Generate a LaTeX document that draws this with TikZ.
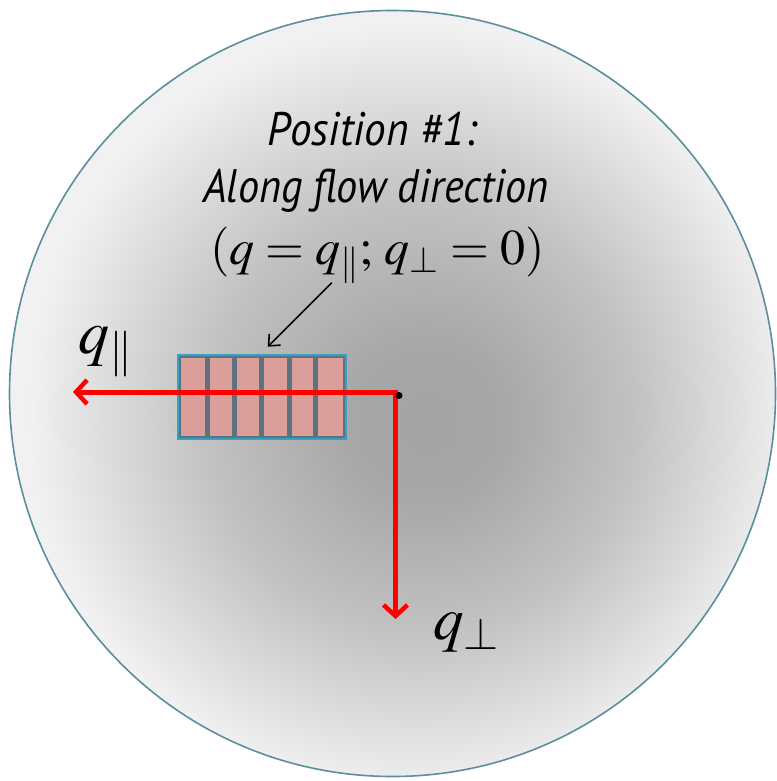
\documentclass[tikz,border=0pt]{standalone}
\usepackage{mathptmx}
\usepackage[no-math]{fontspec}
\newfontfamily\labfont{PT Sans}
\usetikzlibrary{arrows.meta}
\definecolor{rimc}{HTML}{5B8F9E}
\definecolor{detfill}{HTML}{DA9E9B}
\definecolor{detborder}{HTML}{3A9FC4}
\definecolor{detbar}{HTML}{5A737E}
\definecolor{gA}{gray}{0.64}
\definecolor{gB}{gray}{0.655}
\definecolor{gC}{gray}{0.76}
\definecolor{gD}{gray}{0.86}
\definecolor{gE}{gray}{0.945}
\pgfdeclareradialshading{bgshade}{\pgfpoint{2.5bp}{-2bp}}{color(0bp)=(gA); color(5bp)=(gB); color(14bp)=(gC); color(20bp)=(gD); color(25bp)=(gE); color(50bp)=(gE)}
\tikzset{
  rim/.style={draw=rimc, line width=1.6pt, shading=bgshade},
  detbox/.style={draw=detborder, line width=3pt, fill=detfill, rectangle, minimum width=167pt, minimum height=83pt, inner sep=0pt},
  detline/.style={draw=detbar, line width=5pt},
  detinner/.style={draw=detbar, line width=2pt},
  redarrow/.style={draw=red, line width=5pt, line join=miter, {Straight Barb[length=11pt,width=24pt,line width=4.5pt]}-{Straight Barb[length=11pt,width=24pt,line width=4.5pt]}},
  ptrarrow/.style={draw=black, line width=1.6pt, -{Straight Barb[length=9pt,width=16pt,line width=1.6pt]}},
  sanslab/.style={font=\labfont\itshape\fontsize{47pt}{50pt}\selectfont, inner sep=0pt, anchor=base},
  mathlab/.style={inner sep=0pt, anchor=base},
}
\begin{document}
\begin{tikzpicture}[x=1pt,y=-1pt]
\useasboundingbox (0,0) rectangle (776,781);
\fill[white] (0,0) rectangle (776,781);
\shadedraw[rim] (392.5,393.5) circle[radius=383];
% detector
\node[detbox] (det) at (261.5,396.5) {};
\draw[detinner] ([shift={(3,-3)}]det.south west) rectangle ([shift={(-3,3)}]det.north east);
\foreach \x in {207.5,234,261.7,289,315.7}{
  \draw[detline] (\x,357.5) -- (\x,435.5);
}
% axes
\coordinate (o) at (395.5,392);
\coordinate (tipL) at (73,392);
\coordinate (tipD) at (395.5,619);
\draw[redarrow] (tipD) -- (o) -- (tipL);
\fill[black] (399,395.5) circle[radius=3.5];
% labels
\node[sanslab] (t1) at (372,146) {\scalebox{0.92}[1]{Position \#1:}};
\node[sanslab] (t2) at (376,202) {\scalebox{0.9}[1]{Along flow direction}};
\node[mathlab, font=\fontsize{50pt}{54pt}\selectfont] (f) at (377.5,264) {$(q=q_{\parallel};\,q_{\perp}=0)$};
\node[mathlab, anchor=base west, font=\fontsize{62pt}{66pt}\selectfont] (qpar) at (78,353) {$q_{\parallel}$};
\node[mathlab, anchor=base west, font=\fontsize{61pt}{66pt}\selectfont] (qperp) at (433,639.5) {$q_{\perp}$};
\coordinate (ps) at (331.7,282.7);
\coordinate (pe) at (267.7,346.7);
\draw[ptrarrow] (ps) -- (pe);
\end{tikzpicture}
\end{document}
